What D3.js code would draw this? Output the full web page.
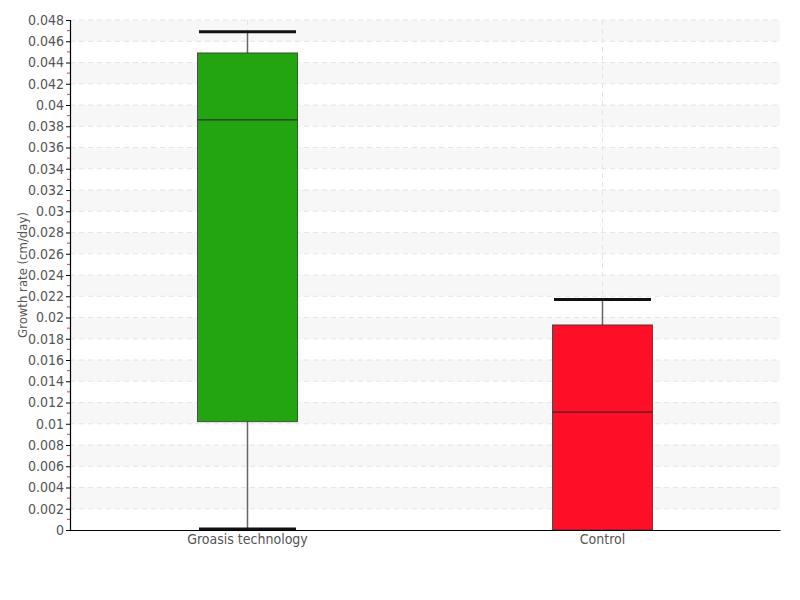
<!DOCTYPE html>
<html><head><meta charset="utf-8">
<script src="https://cdn.jsdelivr.net/npm/d3@7"></script>
<style>
body{margin:0;background:#fff;}
text{font-family:"DejaVu Sans Condensed","DejaVu Sans",sans-serif;font-stretch:condensed;fill:#555;}
</style></head><body>
<svg id="c" width="800" height="600"></svg>
<script>
const categories = ["Groasis technology", "Control"];
const whiskerLow = [0.0001, 0.0];
const q1 = [0.0102, 0.0];
const median = [0.0386, 0.0111];
const q3 = [0.0449, 0.0193];
const whiskerHigh = [0.0469, 0.0217];
const colors = ["#22a511", "#ff0e28"];
const yTicks = d3.range(0, 0.0481, 0.002);

const svg = d3.select("#c");
const m = {l:70, r:20, t:20, b:70};
const W = 800, H = 600;
const x = d3.scaleBand().domain(categories).range([m.l, W - m.r]);
const y = d3.scaleLinear().domain([0, 0.048]).range([H - m.b, m.t]);
const FF = '"DejaVu Sans Condensed","DejaVu Sans",sans-serif';

// alternating bands
const bands = d3.range(0, 12).map(k => [0.002 + 0.004*k, 0.004 + 0.004*k]);
svg.append("g").selectAll("rect").data(bands).join("rect")
  .attr("x", m.l).attr("width", W - m.r - m.l)
  .attr("y", d => y(d[1])).attr("height", d => y(d[0]) - y(d[1]))
  .attr("fill", "#f7f7f7");

// horizontal dashed grid
svg.append("g").selectAll("line").data(yTicks.slice(1)).join("line")
  .attr("x1", m.l).attr("x2", W - m.r)
  .attr("y1", d => y(d)).attr("y2", d => y(d))
  .attr("stroke", "#e4e4e4").attr("stroke-dasharray", "5,4");
// vertical dashed grid
svg.append("g").selectAll("line").data(categories).join("line")
  .attr("x1", d => x(d) + x.bandwidth()/2).attr("x2", d => x(d) + x.bandwidth()/2)
  .attr("y1", m.t).attr("y2", H - m.b)
  .attr("stroke", "#e4e4e4").attr("stroke-dasharray", "5,4");

// boxes
const bw = 100, capW = 97;
const g = svg.append("g");
categories.forEach((c, i) => {
  const cx = x(c) + x.bandwidth()/2;
  g.append("line").attr("x1", cx).attr("x2", cx)
    .attr("y1", y(whiskerHigh[i])).attr("y2", y(q3[i]))
    .attr("stroke", "#666").attr("stroke-width", 1.5);
  g.append("line").attr("x1", cx).attr("x2", cx)
    .attr("y1", y(q1[i])).attr("y2", y(whiskerLow[i]))
    .attr("stroke", "#666").attr("stroke-width", 1.5);
  g.append("rect").attr("x", cx - bw/2).attr("width", bw)
    .attr("y", y(q3[i])).attr("height", y(q1[i]) - y(q3[i]))
    .attr("fill", colors[i]).attr("stroke", "#333").attr("stroke-opacity", 0.8).attr("stroke-width", 1);
  g.append("line").attr("x1", cx - bw/2).attr("x2", cx + bw/2)
    .attr("y1", y(median[i])).attr("y2", y(median[i]))
    .attr("stroke", "#222").attr("stroke-width", 1);
  g.append("line").attr("x1", cx - capW/2).attr("x2", cx + capW/2)
    .attr("y1", y(whiskerHigh[i])).attr("y2", y(whiskerHigh[i]))
    .attr("stroke", "#111").attr("stroke-width", 3);
  if (whiskerLow[i] < q1[i]) {
    g.append("line").attr("x1", cx - capW/2).attr("x2", cx + capW/2)
      .attr("y1", y(whiskerLow[i])).attr("y2", y(whiskerLow[i]))
      .attr("stroke", "#111").attr("stroke-width", 3);
  }
});

// minor red ticks
svg.append("g").selectAll("line").data(d3.range(0, 24).map(k => 0.001 + 0.002*k)).join("line")
  .attr("x1", m.l - 3).attr("x2", m.l)
  .attr("y1", d => y(d)).attr("y2", d => y(d))
  .attr("stroke", "#ff3030").attr("stroke-width", 1);

// y axis
const ya = svg.append("g").attr("transform", `translate(${m.l},0)`)
  .call(d3.axisLeft(y).tickValues(yTicks).tickSize(4).tickPadding(2)
    .tickFormat(d => d === 0 ? "0" : d3.format(".3~f")(d)));
ya.select(".domain").attr("stroke", "#000").attr("stroke-width", 1.2);
ya.selectAll(".tick line").attr("stroke", "#000");
ya.selectAll(".tick text").attr("font-size", 14).attr("fill", "#555")
  .style("font-family", FF).style("font-stretch", "condensed");

// x axis
const xa = svg.append("g").attr("transform", `translate(0,${H - m.b})`)
  .call(d3.axisBottom(x).tickSize(0).tickPadding(4));
xa.select(".domain").attr("stroke", "#000").attr("stroke-width", 1.2);
xa.selectAll(".tick text").attr("font-size", 14).attr("fill", "#555")
  .style("font-family", FF).style("font-stretch", "condensed");

// y label
svg.append("text").attr("transform", `translate(27,${(m.t + H - m.b)/2}) rotate(-90)`)
  .attr("text-anchor", "middle").attr("font-size", 13).attr("fill", "#555")
  .style("font-family", FF).style("font-stretch", "condensed")
  .text("Growth rate (cm/day)");
</script>
</body></html>
